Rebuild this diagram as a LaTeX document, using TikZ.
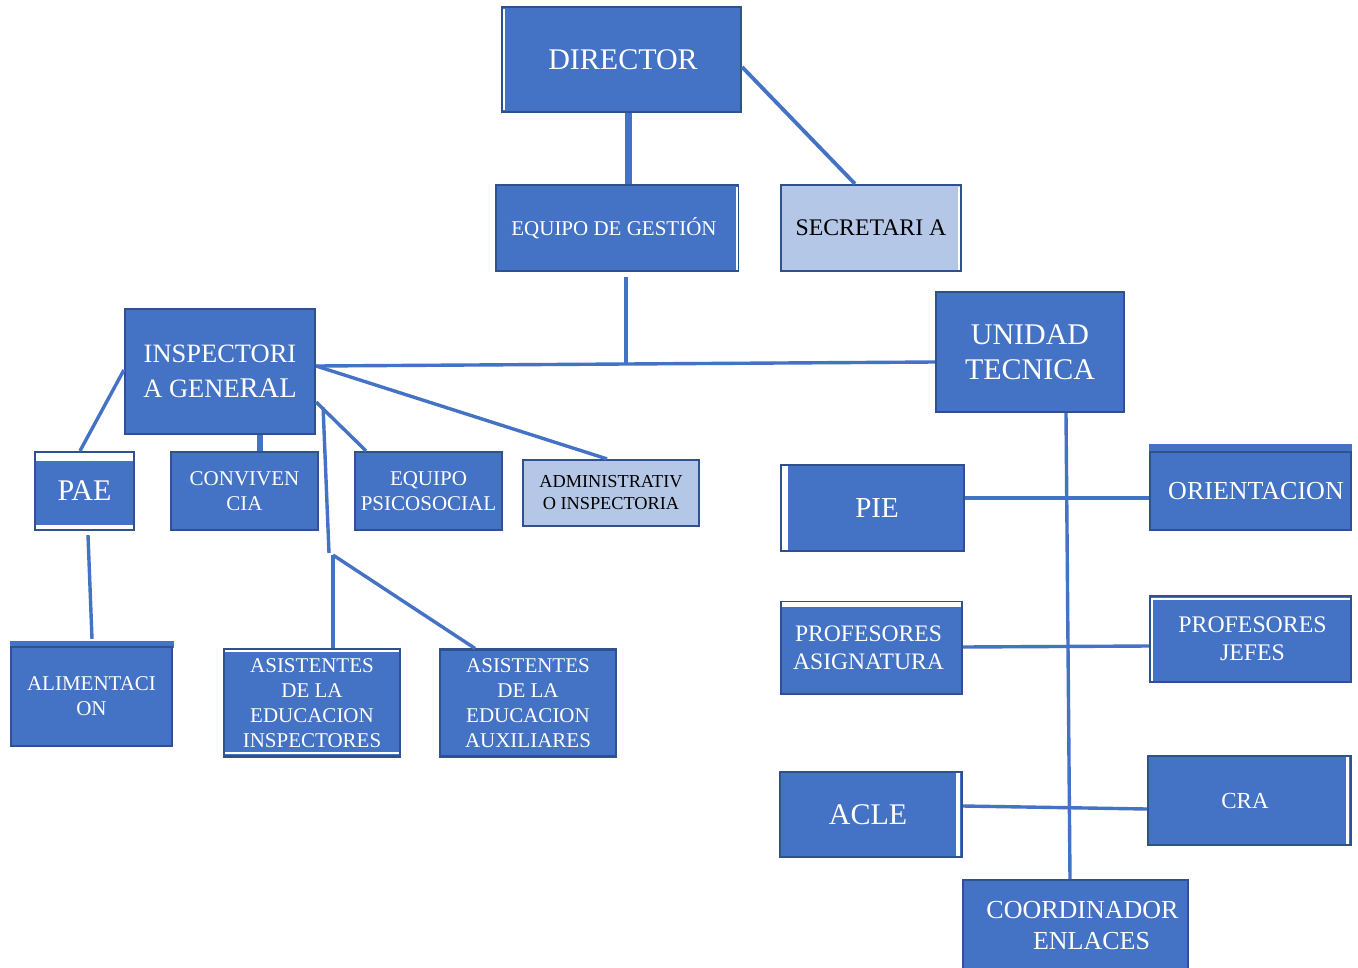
\documentclass[tikz,border=0pt]{standalone}
\usepackage{fontspec}
\setmainfont{Liberation Serif}
\definecolor{fillc}{HTML}{4472C4}
\definecolor{bordc}{HTML}{2F528F}
\definecolor{lightc}{HTML}{B4C7E7}
\definecolor{linec}{HTML}{4472C4}
\newcommand{\fsz}[2]{\fontsize{#1}{#2}\selectfont}
\begin{document}
\begin{tikzpicture}[x=1pt,y=-1pt,
  box/.style={draw=bordc, line width=2.2pt, fill=fillc, text=white, inner sep=0pt, align=center},
  lbox/.style={box, fill=lightc, text=black},
  conn/.style={draw=linec, line width=3.4pt},
  stripe/.style={fill=white}]
\useasboundingbox (0,0) rectangle (1358,967);
\fill[white] (0,0) rectangle (1358,967);

\coordinate (j1) at (626,364);
\coordinate (j2) at (329,553);
\coordinate (j3) at (333,555);

% boxes
\node[box, minimum width=239pt, minimum height=105pt, font=\fsz{30}{36}] (dir) at (621.5,59.5) {\hspace*{3pt}DIRECTOR};
\node[box, minimum width=242pt, minimum height=86pt, font=\fsz{21}{25}] (eg) at (617,228) {\hspace*{-6pt}EQUIPO DE GESTIÓN};
\node[lbox, minimum width=180pt, minimum height=86pt, font=\fsz{23.8}{28}] (sec) at (871,228) {SECRETARI A};
\node[box, minimum width=190pt, minimum height=125pt, font=\fsz{26.5}{35}] (insp) at (220,371.5) {INSPECTORI\\A GENE{\fsz{28.5}{35}RAL}};
\node[box, minimum width=188pt, minimum height=120pt, font=\fsz{30}{35}] (ut) at (1030,352) {UNIDAD\\TECNICA};
\node[box, minimum width=99pt, minimum height=78pt, font=\fsz{30}{36}] (pae) at (84.5,491) {PAE};
\node[box, minimum width=147pt, minimum height=78pt, font=\fsz{21}{25}] (conv) at (244.5,491) {CONVIVEN\\CIA};
\node[box, minimum width=147pt, minimum height=78pt, font=\fsz{21}{25}] (eps) at (428.5,491) {EQUIPO\\PSICOSOCIAL};
\node[lbox, minimum width=176pt, minimum height=66pt, font=\fsz{18.3}{22}] (adm) at (611,493) {ADMINISTRATIV\\O INSPECTORIA};
\fill[fillc] (10,641) rectangle (174,648);
\node[box, minimum width=161pt, minimum height=99pt, font=\fsz{21}{25}] (ali) at (91.5,696.5) {ALIMENTACI\\ON};
\node[box, minimum width=176pt, minimum height=107pt, font=\fsz{21}{25}] (asi) at (312,703) {ASISTENTES\\DE LA\\EDUCACION\\INSPECTORES};
\node[box, minimum width=176pt, minimum height=107pt, font=\fsz{21}{25}] (asa) at (528,703) {ASISTENTES\\DE LA\\EDUCACION\\AUXILIARES};
\node[box, minimum width=183pt, minimum height=86pt, font=\fsz{29}{35}] (pie) at (872.5,508) {\hspace*{9pt}PIE};
\fill[fillc] (1149,444) rectangle (1352,452);
\node[box, minimum width=201pt, minimum height=78pt, font=\fsz{26}{31}] (ori) at (1250.5,491) {\hspace*{11pt}ORIENTACION};
\node[box, minimum width=181pt, minimum height=92pt, font=\fsz{23.6}{28}] (pa) at (871.5,648) {\hspace*{-6pt}PROFESORES\\\hspace*{-6pt}ASIGNATURA};
\node[box, minimum width=201pt, minimum height=86pt, font=\fsz{23.8}{28}] (pj) at (1250.5,639) {\hspace*{4pt}PROFESORES\\\hspace*{4pt}JEFES};
\node[box, minimum width=182pt, minimum height=85pt, font=\fsz{30}{36}] (acle) at (871,814.5) {\hspace*{-6pt}ACLE};
\node[box, minimum width=203pt, minimum height=89pt, font=\fsz{23}{28}] (cra) at (1249.5,800.5) {\hspace*{-9pt}CRA};
\node[box, minimum width=225pt, minimum height=92pt, font=\fsz{26}{31}] (ce) at (1075.5,926) {\hspace*{14pt}COORDINADOR\\\hspace*{32pt}ENLACES};

% decorative white stripes
\fill[stripe] (503,9) rectangle (505,110);
\fill[stripe] (736,187) rectangle (738,270);
\fill[stripe] (958,187) rectangle (960,270);
\fill[stripe] (36,453) rectangle (133,461);
\fill[stripe] (36,525) rectangle (133,529);
\fill[stripe] (225,650) rectangle (399,652);
\fill[stripe] (225,752) rectangle (399,754);
\fill[stripe] (782,466) rectangle (788,550);
\fill[stripe] (782,602) rectangle (961,607);
\fill[stripe] (1151,598) rectangle (1350,600);
\fill[stripe] (1151,600) rectangle (1153,681);
\fill[stripe] (956,773) rectangle (960,856);
\fill[stripe] (1346,757) rectangle (1349,844);

% connectors
\draw[conn, line width=7pt] ([xshift=6.5pt]dir.south) -- ([xshift=11pt]eg.north);
\draw[conn, line width=3.8pt] ([yshift=-7.5pt]dir.east) -- ([xshift=-16pt]sec.north);
\draw[conn] ([xshift=9pt,yshift=-5pt]eg.south) -- (j1);
\draw[conn] ([yshift=5.5pt]insp.east) -- ([yshift=-10pt]ut.west);
\draw[conn] ([yshift=5.5pt]insp.east) -- ([xshift=-4pt]adm.north);
\draw[conn] ([yshift=-30.5pt]insp.east) -- ([xshift=-62.5pt]eps.north);
\draw[conn, line width=6pt] ([xshift=40pt]insp.south) -- ([xshift=15.5pt]conv.north);
\draw[conn] ([yshift=1.5pt]insp.west) -- ([xshift=-4.5pt]pae.north);
\draw[conn] ([xshift=7pt,yshift=-36pt]insp.east) -- (j2);
\draw[conn] (j3) -- ([xshift=21pt]asi.north);
\draw[conn] (j3) -- ([xshift=-53pt]asa.north);
\draw[conn] ([xshift=3.5pt,yshift=-4pt]pae.south) -- ([xshift=0.5pt,yshift=7pt]ali.north);
\draw[conn] ([xshift=36pt]ut.south) -- ([xshift=-5.5pt]ce.north);
\draw[conn] ([yshift=10pt]pie.east) -- ([yshift=-7pt]ori.west);
\draw[conn] ([yshift=1pt]pa.east) -- ([yshift=-7pt]pj.west);
\draw[conn] ([yshift=8.5pt]acle.east) -- ([yshift=-8.5pt]cra.west);
\end{tikzpicture}
\end{document}
